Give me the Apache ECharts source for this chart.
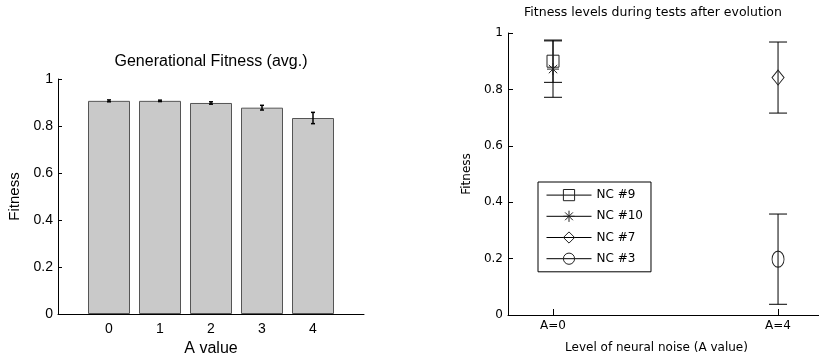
<!DOCTYPE html>
<html>
<head>
<meta charset="utf-8">
<script src="https://cdn.jsdelivr.net/npm/echarts@6/dist/echarts.min.js"></script>
<style>
  html, body { margin: 0; padding: 0; background: #fff; }
  #chart { width: 819px; height: 362px; }
</style>
</head>
<body>
<div id="chart"></div>
<script>
// left panel: generational fitness per A value
const aValues = [0, 1, 2, 3, 4];
const genMeans = [0.907, 0.907, 0.898, 0.878, 0.834];
const genErrs = [0.004, 0.003, 0.005, 0.010, 0.024];

// right panel: test fitness per network controller
const noiseLabels = ["A=0", "A=4"];
const noisePos = [1, 2];
const ncNames = ["NC #9", "NC #10", "NC #7", "NC #3"];
const ncPos = [1, 1, 2, 2];
const ncMeans = [0.900, 0.872, 0.842, 0.198];
const ncErrs = [0.075, 0.100, 0.126, 0.160];
const ncSymbols = [
  "rect",
  "path://M6 0L6 12M0 6L12 6M1.8 1.8L10.2 10.2M1.8 10.2L10.2 1.8",
  "diamond",
  "circle",
];
const ncSizes = [[12, 12], [12, 12], [12, 15], [12, 16]];

const fontL = "Liberation Sans";
const fontR = "DejaVu Sans";

const errorBarItem = (capHalf, width) => (params, api) => {
  const x = api.value(0);
  const lo = api.coord([x, api.value(1)]);
  const hi = api.coord([x, api.value(2)]);
  const style = { stroke: "#000", lineWidth: width };
  return {
    type: "group",
    children: [
      { type: "line", shape: { x1: lo[0], y1: lo[1], x2: hi[0], y2: hi[1] }, style },
      { type: "line", shape: { x1: lo[0] - capHalf, y1: lo[1], x2: lo[0] + capHalf, y2: lo[1] }, style },
      { type: "line", shape: { x1: hi[0] - capHalf, y1: hi[1], x2: hi[0] + capHalf, y2: hi[1] }, style },
    ],
  };
};

const axisLine = { show: true, onZero: false, lineStyle: { color: "#000", width: 1 } };

const chart = echarts.init(document.getElementById("chart"));

const ncSeries = ncNames.map((name, i) => ({
  name,
  type: "line",
  xAxisIndex: 1,
  yAxisIndex: 1,
  data: [[ncPos[i], ncMeans[i]]],
  symbol: ncSymbols[i],
  symbolSize: ncSizes[i],
  itemStyle: { color: "transparent", borderColor: "#222", borderWidth: 1 },
  lineStyle: { color: "#000", width: 1 },
  z: 4,
  silent: true,
}));

chart.setOption({
  animation: false,
  title: [
    {
      text: "Generational Fitness (avg.)",
      left: 211, top: 54, padding: 0, textAlign: "center",
      textStyle: { fontFamily: fontL, fontSize: 16, fontWeight: "normal", color: "#000" },
    },
    {
      text: "Fitness levels during tests after evolution",
      left: 653, top: 6, padding: 0, textAlign: "center",
      textStyle: { fontFamily: fontR, fontSize: 12.5, fontWeight: "normal", color: "#000" },
    },
  ],
  legend: {
    data: ncNames,
    orient: "vertical",
    left: 538, top: 182,
    padding: [7, 8, 7, 8],
    itemWidth: 45, itemHeight: 14, itemGap: 9,
    borderColor: "#000", borderWidth: 1,
    backgroundColor: "#fff",
    selectedMode: false,
    lineStyle: { width: 1, color: "#000" },
    itemStyle: { borderWidth: 1 },
    textStyle: { fontFamily: fontR, fontSize: 12, color: "#000" },
  },
  grid: [
    { left: 58, top: 79, width: 306, height: 235 },
    { left: 508, top: 33, width: 311, height: 282 },
  ],
  xAxis: [
    {
      gridIndex: 0, type: "value", min: -1, max: 5, interval: 1,
      name: "A value", nameLocation: "middle", nameGap: 25,
      nameTextStyle: { fontFamily: fontL, fontSize: 16, color: "#000" },
      axisLine,
      axisTick: { show: false },
      axisLabel: {
        customValues: aValues, margin: 8,
        fontFamily: fontL, fontSize: 14, color: "#000",
      },
      splitLine: { show: false },
    },
    {
      gridIndex: 1, type: "value", min: 0.8, max: 2.182,
      name: "Level of neural noise (A value)", nameLocation: "middle", nameGap: 27,
      nameTextStyle: { fontFamily: fontR, fontSize: 12, color: "#000", padding: [0, 14, 0, 0] },
      axisLine,
      axisTick: { customValues: noisePos, inside: true, length: 6, lineStyle: { color: "#000" } },
      axisLabel: {
        customValues: noisePos, margin: 5,
        formatter: (v) => noiseLabels[noisePos.indexOf(v)] || "",
        fontFamily: fontR, fontSize: 12, color: "#000",
      },
      splitLine: { show: false },
    },
  ],
  yAxis: [
    {
      gridIndex: 0, type: "value", min: 0, max: 1, interval: 0.2,
      name: "Fitness", nameLocation: "middle", nameGap: 36,
      nameTextStyle: { fontFamily: fontL, fontSize: 15, color: "#000" },
      axisLine,
      axisTick: { show: true, inside: true, length: 4, lineStyle: { color: "#000" } },
      axisLabel: { margin: 5, fontFamily: fontL, fontSize: 14, color: "#000" },
      splitLine: { show: false },
    },
    {
      gridIndex: 1, type: "value", min: 0, max: 1, interval: 0.2,
      name: "Fitness", nameLocation: "middle", nameGap: 35,
      nameTextStyle: { fontFamily: fontR, fontSize: 12, color: "#000" },
      axisLine,
      axisTick: { show: true, inside: true, length: 5, lineStyle: { color: "#000" } },
      axisLabel: { margin: 5, fontFamily: fontR, fontSize: 12, color: "#000" },
      splitLine: { show: false },
    },
  ],
  series: [
    {
      type: "bar",
      xAxisIndex: 0, yAxisIndex: 0,
      data: aValues.map((a, i) => [a, genMeans[i]]),
      barWidth: 42,
      itemStyle: { color: "#c9c9c9", borderColor: "#555", borderWidth: 1 },
      silent: true,
    },
    {
      type: "custom",
      xAxisIndex: 0, yAxisIndex: 0,
      renderItem: errorBarItem(2, 1.5),
      encode: { x: 0, y: [1, 2] },
      data: aValues.map((a, i) => [a, genMeans[i] - genErrs[i], genMeans[i] + genErrs[i]]),
      z: 5,
      silent: true,
    },
    {
      type: "custom",
      xAxisIndex: 1, yAxisIndex: 1,
      renderItem: errorBarItem(9, 1),
      encode: { x: 0, y: [1, 2] },
      data: ncNames.map((n, i) => [ncPos[i], ncMeans[i] - ncErrs[i], ncMeans[i] + ncErrs[i]]),
      z: 3,
      silent: true,
    },
    ...ncSeries,
  ],
});
</script>
</body>
</html>
